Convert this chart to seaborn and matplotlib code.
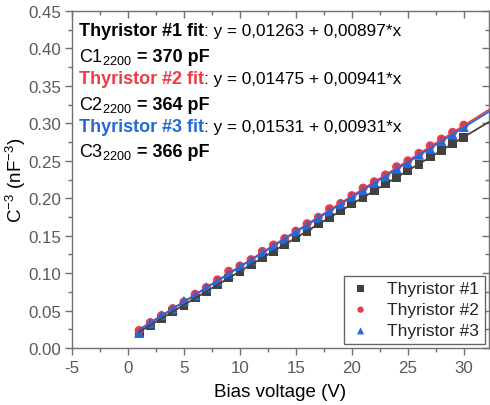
import numpy as np
import pandas as pd
import matplotlib
matplotlib.use("Agg")
import matplotlib.pyplot as plt
import seaborn as sns

# Bias sweep (V)
bias = list(range(1, 31))

# C^-3 (nF^-3) for each device
thy1 = [0.0205, 0.0300, 0.0392, 0.0487, 0.0570, 0.0668, 0.0752, 0.0842, 0.0935, 0.1020,
        0.1112, 0.1205, 0.1290, 0.1385, 0.1470, 0.1560, 0.1655, 0.1740, 0.1828, 0.1922,
        0.2008, 0.2100, 0.2192, 0.2278, 0.2370, 0.2455, 0.2550, 0.2640, 0.2726, 0.2815]
thy2 = [0.0235, 0.0340, 0.0432, 0.0526, 0.0615, 0.0718, 0.0808, 0.0910, 0.1025, 0.1095,
        0.1180, 0.1290, 0.1375, 0.1462, 0.1560, 0.1660, 0.1745, 0.1860, 0.1930, 0.2035,
        0.2135, 0.2220, 0.2310, 0.2420, 0.2500, 0.2600, 0.2700, 0.2790, 0.2880, 0.2975]
thy3 = [0.0200, 0.0330, 0.0440, 0.0520, 0.0630, 0.0705, 0.0810, 0.0890, 0.0990, 0.1090,
        0.1170, 0.1275, 0.1360, 0.1450, 0.1555, 0.1640, 0.1740, 0.1825, 0.1920, 0.2020,
        0.2105, 0.2205, 0.2290, 0.2395, 0.2470, 0.2580, 0.2660, 0.2765, 0.2850, 0.2950]

names = ["Thyristor #1", "Thyristor #2", "Thyristor #3"]
intercepts = [0.01263, 0.01475, 0.01531]
slopes = [0.00897, 0.00941, 0.00931]
intercept_txt = ["0,01263", "0,01475", "0,01531"]
slope_txt = ["0,00897", "0,00941", "0,00931"]
cap_pf = [370, 364, 366]

colors = ["#414141", "#EE3B45", "#2369DA"]
markers = ["s", "o", "^"]
msizes = [40, 42, 52]

sns.set_theme(style="ticks")
plt.rcParams["font.family"] = ["Liberation Sans", "DejaVu Sans"]
plt.rcParams["axes.unicode_minus"] = False
plt.rcParams["mathtext.fontset"] = "custom"
plt.rcParams["mathtext.rm"] = "Liberation Sans"
plt.rcParams["mathtext.it"] = "Liberation Sans:italic"
plt.rcParams["mathtext.bf"] = "Liberation Sans:bold"

fig = plt.figure(figsize=(4.9, 4.06), dpi=100)
ax = fig.add_axes([72 / 490, 57 / 406, 417 / 490, 337 / 406])

series = [thy1, thy2, thy3]
for vals, name, c, m, s in zip(series, names, colors, markers, msizes):
    df = pd.DataFrame({"bias": bias, "val": vals})
    sns.scatterplot(data=df, x="bias", y="val", marker=m, color=c, s=s,
                    edgecolor="none", linewidth=0, label=name, ax=ax, zorder=2)

# Linear fits
xfit = np.array([1.0, 33.0])
for b0, b1, c in zip(intercepts, slopes, colors):
    ax.plot(xfit, b0 + b1 * xfit, color=c, lw=1.3, zorder=3)

ax.set_xlim(-5, 32.25)
ax.set_ylim(0, 0.45)
ax.set_xticks(np.arange(-5, 31, 5))
ax.set_xticks(np.arange(-5, 32.3, 2.5), minor=True)
ax.set_yticks(np.arange(0, 0.451, 0.05))
ax.set_yticks(np.arange(0, 0.451, 0.025), minor=True)
ax.yaxis.set_major_formatter(matplotlib.ticker.FormatStrFormatter("%.2f"))

spine_c = "#707070"
for sp in ax.spines.values():
    sp.set_visible(True)
    sp.set_color(spine_c)
    sp.set_linewidth(1.0)
ax.tick_params(which="both", colors=spine_c, labelcolor="#5a5a5a", labelsize=12.2,
               top=True, right=True, pad=2.5)
ax.tick_params(which="major", length=5, width=1.0)
ax.tick_params(which="minor", length=3, width=1.0)
ax.xaxis.set_tick_params(which="both", direction="out", pad=3.5)
ax.yaxis.set_tick_params(which="both", direction="out")
# inward ticks on the mirrored top/right spines
for t in ax.xaxis.get_major_ticks() + ax.xaxis.get_minor_ticks():
    t.tick2line.set_marker(matplotlib.lines.TICKDOWN)
for t in ax.yaxis.get_major_ticks() + ax.yaxis.get_minor_ticks():
    t.tick2line.set_marker(matplotlib.lines.TICKLEFT)

ax.set_xlabel("Bias voltage (V)", fontsize=13.5, color="black", labelpad=6)
ax.set_ylabel(r"C$^{-3}$ (nF$^{-3}$)", fontsize=13.5, color="black")
ax.yaxis.set_label_coords(-0.105, 0.5)

# Fit equations and extracted capacitance
fs_b = 13.0
fs_n = 12.4
baselines = [36, 62, 84, 110, 132, 157]
def ay(px):
    return 1 - (px - 12) / 337

for i in range(3):
    yb1 = ay(baselines[2 * i])
    t1 = ax.text(0.017, yb1, f"{names[i]} fit", transform=ax.transAxes,
                 fontsize=fs_b, fontweight="bold", color=("black" if i == 0 else colors[i]),
                 va="baseline", ha="left")
    ax.annotate(f": y = {intercept_txt[i]} + {slope_txt[i]}*x", xy=(1, yb1),
                xycoords=(t1, "axes fraction"), va="baseline", ha="left",
                fontsize=fs_n, color="black")
    yb2 = ay(baselines[2 * i + 1])
    t2 = ax.text(0.017, yb2, rf"C{i + 1}$_{{2200}}$", transform=ax.transAxes,
                 fontsize=fs_b, color="black", va="baseline", ha="left")
    ax.annotate(f" = {cap_pf[i]} pF", xy=(1, yb2), xycoords=(t2, "axes fraction"),
                va="baseline", ha="left", fontsize=fs_b, fontweight="bold", color="black")

leg = ax.legend(loc="lower right", fontsize=12.5, markerscale=0.7, frameon=True,
                fancybox=False, framealpha=1, edgecolor="#666666", handletextpad=0.9,
                borderaxespad=0.25, labelspacing=0.35, borderpad=0.3, handlelength=1.3)
leg.get_frame().set_linewidth(1.0)

fig.savefig("out.png", dpi=100)
